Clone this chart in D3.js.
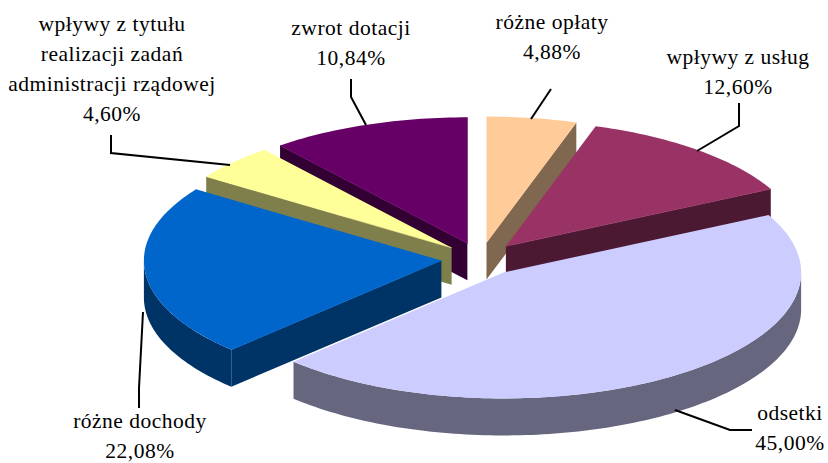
<!DOCTYPE html>
<html>
<head>
<meta charset="utf-8">
<title>Struktura dochodów</title>
<script src="https://cdn.jsdelivr.net/npm/d3@7"></script>
<style>
  html, body { margin: 0; padding: 0; background: #fff; }
  svg { display: block; }
  text { font-family: "Liberation Serif", "Times New Roman", serif; font-size: 21.5px; letter-spacing: 0.5px; fill: #000; }
</style>
</head>
<body>
<div id="chart"></div>
<script>
// data
const categories = ['różne opłaty', 'wpływy z usług', 'odsetki', 'różne dochody',
  'wpływy z tytułu realizacji zadań administracji rządowej', 'zwrot dotacji'];
const values = [4.88, 12.60, 45.00, 22.08, 4.60, 10.84];
const valueLabels = ['4,88%', '12,60%', '45,00%', '22,08%', '4,60%', '10,84%'];
const topColors = ['#FFCC99', '#993366', '#CCCCFF', '#0066CC', '#FFFF99', '#660066'];
const sideColors = ['#806750', '#4C1933', '#66667F', '#003366', '#7F7F4C', '#330033'];

const labelLines = [
  ['różne opłaty'],
  ['wpływy z usług'],
  ['odsetki'],
  ['różne dochody'],
  ['wpływy z tytułu', 'realizacji zadań', 'administracji rządowej'],
  ['zwrot dotacji']
];

const width = 828, height = 463;
const cx = 480.5, cy = 259;   // middle of the pie before slices are pulled out
const rx = 297.5, ry = 126;     // top face ellipse
const explode = 0.132;
const depth = 37;
const lineH = 30;

// label centre + first baseline, leader polyline
const labelPos = [
  { x: 552, y: 29, leader: [[531, 119], [551, 89]] },
  { x: 738, y: 64, leader: [[697, 151], [739, 126], [739, 103]] },
  { x: 790, y: 420, leader: [[675, 410], [730, 430], [752, 430]] },
  { x: 140, y: 428, leader: [[143, 312], [139, 388], [139, 408]] },
  { x: 112, y: 31, leader: [[230, 165], [111, 153], [111, 135]] },
  { x: 351, y: 35, leader: [[366, 125], [351, 97], [351, 79]] }
];

const svg = d3.select('#chart').append('svg')
  .attr('width', width)
  .attr('height', height);

const pie = d3.pie().sort(null).value(d => d.value);

const slices = pie(values.map((v, i) => ({ value: v, i: i }))).map(d => {
  const mid = (d.startAngle + d.endAngle) / 2;
  d.mid = mid;
  d.tx = cx + explode * rx * Math.sin(mid);
  d.ty = cy - explode * ry * Math.cos(mid);
  return d;
});

const line = d3.line();

function pt(s, a, dy) {
  return [s.tx + rx * Math.sin(a), s.ty - ry * Math.cos(a) + (dy || 0)];
}

function arcPoints(s, a0, a1, dy) {
  const n = Math.max(2, Math.ceil((a1 - a0) / 0.02));
  return d3.range(n + 1).map(k => pt(s, a0 + (a1 - a0) * k / n, dy));
}

// back slices first
const order = slices.slice().sort((a, b) => a.ty - b.ty);

const g = svg.selectAll('.slice')
  .data(order)
  .enter().append('g')
  .attr('class', 'slice');

g.each(function (s) {
  const el = d3.select(this);
  const side = sideColors[s.data.i];
  const top = topColors[s.data.i];

  // straight cut walls that face the viewer
  [s.startAngle, s.endAngle].forEach((a, k) => {
    const show = k === 0 ? Math.sin(a) < 0 : Math.sin(a) > 0;
    if (!show) return;
    const o = pt(s, a);
    el.append('path')
      .attr('d', line([[s.tx, s.ty], o, [o[0], o[1] + depth], [s.tx, s.ty + depth]]) + 'Z')
      .attr('fill', side);
  });

  // rim on the front half
  const a0 = Math.max(s.startAngle, Math.PI / 2);
  const a1 = Math.min(s.endAngle, Math.PI * 1.5);
  if (a1 > a0) {
    const upper = arcPoints(s, a0, a1, 0);
    const lower = arcPoints(s, a0, a1, depth).reverse();
    el.append('path')
      .attr('d', line(upper.concat(lower)) + 'Z')
      .attr('fill', side);
  }

  // top face
  const face = [[s.tx, s.ty]].concat(arcPoints(s, s.startAngle, s.endAngle, 0));
  el.append('path')
    .attr('d', line(face) + 'Z')
    .attr('fill', top);

  // thin light edge along the visible cuts
  [s.startAngle, s.endAngle].forEach((a, k) => {
    const show = k === 0 ? Math.sin(a) < 0 : Math.sin(a) > 0;
    if (!show) return;
    el.append('path')
      .attr('d', line([[s.tx, s.ty], pt(s, a)]))
      .attr('fill', 'none')
      .attr('stroke', top)
      .attr('stroke-width', 0.7);
  });
});

// leaders
svg.selectAll('.leader')
  .data(labelPos)
  .enter().append('path')
  .attr('class', 'leader')
  .attr('d', d => line(d.leader))
  .attr('fill', 'none')
  .attr('stroke', '#000')
  .attr('stroke-width', 2);

// labels
const labels = svg.selectAll('.label')
  .data(categories)
  .enter().append('text')
  .attr('class', 'label')
  .attr('text-anchor', 'middle');

labels.each(function (c, i) {
  const lines = labelLines[i].concat([valueLabels[i]]);
  const p = labelPos[i];
  d3.select(this).selectAll('tspan')
    .data(lines)
    .enter().append('tspan')
    .attr('x', p.x)
    .attr('y', (d, k) => p.y + k * lineH)
    .text(d => d);
});
</script>
</body>
</html>
